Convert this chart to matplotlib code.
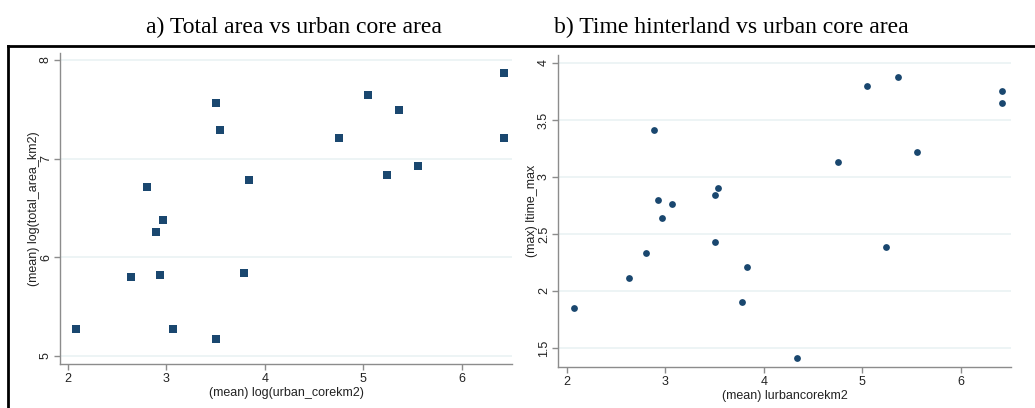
import matplotlib
matplotlib.use("Agg")
import matplotlib.pyplot as plt
from matplotlib.lines import Line2D

# ---------------------------------------------------------------------------
# Data
# ---------------------------------------------------------------------------
# a) log total area vs log urban core area
core_a = [6.43, 3.50, 5.05, 5.36, 3.54, 4.75, 6.43, 5.56, 5.24, 3.84,
          2.80, 2.97, 2.89, 2.64, 2.94, 3.79, 2.08, 3.07, 3.50]
total_area = [7.87, 7.56, 7.645, 7.49, 7.29, 7.21, 7.21, 6.93, 6.835, 6.78,
              6.71, 6.38, 6.26, 5.80, 5.82, 5.845, 5.27, 5.275, 5.17]

# b) log time hinterland vs log urban core area
core_b = [2.89, 5.05, 5.36, 6.42, 6.42, 5.56, 4.75, 3.54, 3.50, 2.93,
          3.07, 2.97, 3.50, 5.24, 2.80, 3.83, 2.63, 3.78, 2.07, 4.34]
time_max = [3.41, 3.80, 3.875, 3.75, 3.65, 3.22, 3.135, 2.90, 2.84, 2.80,
            2.76, 2.64, 2.43, 2.39, 2.33, 2.21, 2.115, 1.90, 1.85, 1.41]

titles = ["a) Total area vs urban core area", "b) Time hinterland vs urban core area"]
xlabels = ["(mean) log(urban_corekm2)", "(mean) lurbancorekm2"]
ylabels = ["(mean) log(total_area_km2)", "(max) ltime_max"]

NAVY = "#1a476f"
GRID = "#eaf2f3"
SPINE = "#8c8c8c"

plt.rcParams["font.family"] = ["Liberation Sans", "DejaVu Sans"]

fig = plt.figure(figsize=(10.35, 4.08), dpi=100)
ax1 = fig.add_axes([0.058, 0.108, 0.4367, 0.762])
ax2 = fig.add_axes([0.5391, 0.1005, 0.4377, 0.7647])


def style(ax, xlabel, ylabel):
    for side in ["top", "right"]:
        ax.spines[side].set_visible(False)
    for side in ["left", "bottom"]:
        ax.spines[side].set_color(SPINE)
        ax.spines[side].set_linewidth(1.0)
    ax.tick_params(colors=SPINE, labelcolor="#222222", labelsize=9,
                   length=4.3, width=1, direction="out")
    ax.tick_params(axis="x", pad=2.5)
    ax.tick_params(axis="y", labelrotation=90, pad=1.5)
    for lab in ax.get_yticklabels():
        lab.set_va("center")
    ax.grid(axis="y", color=GRID, linewidth=1.2)
    ax.set_axisbelow(True)
    ax.set_xlabel(xlabel, fontsize=9, color="#222222", labelpad=1)
    ax.set_ylabel(ylabel, fontsize=9, color="#222222", labelpad=0)


# panel a
ax1.scatter(core_a, total_area, marker="s", s=30, color=NAVY, linewidths=0)
ax1.set_xlim(1.92, 6.51)
ax1.set_ylim(4.92, 8.07)
ax1.set_xticks([2, 3, 4, 5, 6])
ax1.set_yticks([5, 6, 7, 8])
style(ax1, xlabels[0], ylabels[0])

# panel b
ax2.scatter(core_b, time_max, marker="o", s=24, color=NAVY, linewidths=0)
ax2.set_xlim(1.91, 6.51)
ax2.set_ylim(1.333, 4.07)
ax2.set_xticks([2, 3, 4, 5, 6])
ax2.set_yticks([1.5, 2, 2.5, 3, 3.5, 4])
ax2.set_yticklabels(["1.5", "2", "2.5", "3", "3.5", "4"])
style(ax2, xlabels[1], ylabels[1])

# titles above the panels (serif, like the source document)
fig.text(0.284, 0.932, titles[0], ha="center", va="center",
         fontsize=17, family=["Liberation Serif", "DejaVu Serif"])
fig.text(0.7063, 0.932, titles[1], ha="center", va="center",
         fontsize=17, family=["Liberation Serif", "DejaVu Serif"])

# black frame lines (top and left)
fig.add_artist(Line2D([0.0077, 1.0], [0.887, 0.887], color="black", lw=2))
fig.add_artist(Line2D([0.0077, 0.0077], [0.0, 0.887], color="black", lw=2))

fig.savefig("out.png", dpi=100)
